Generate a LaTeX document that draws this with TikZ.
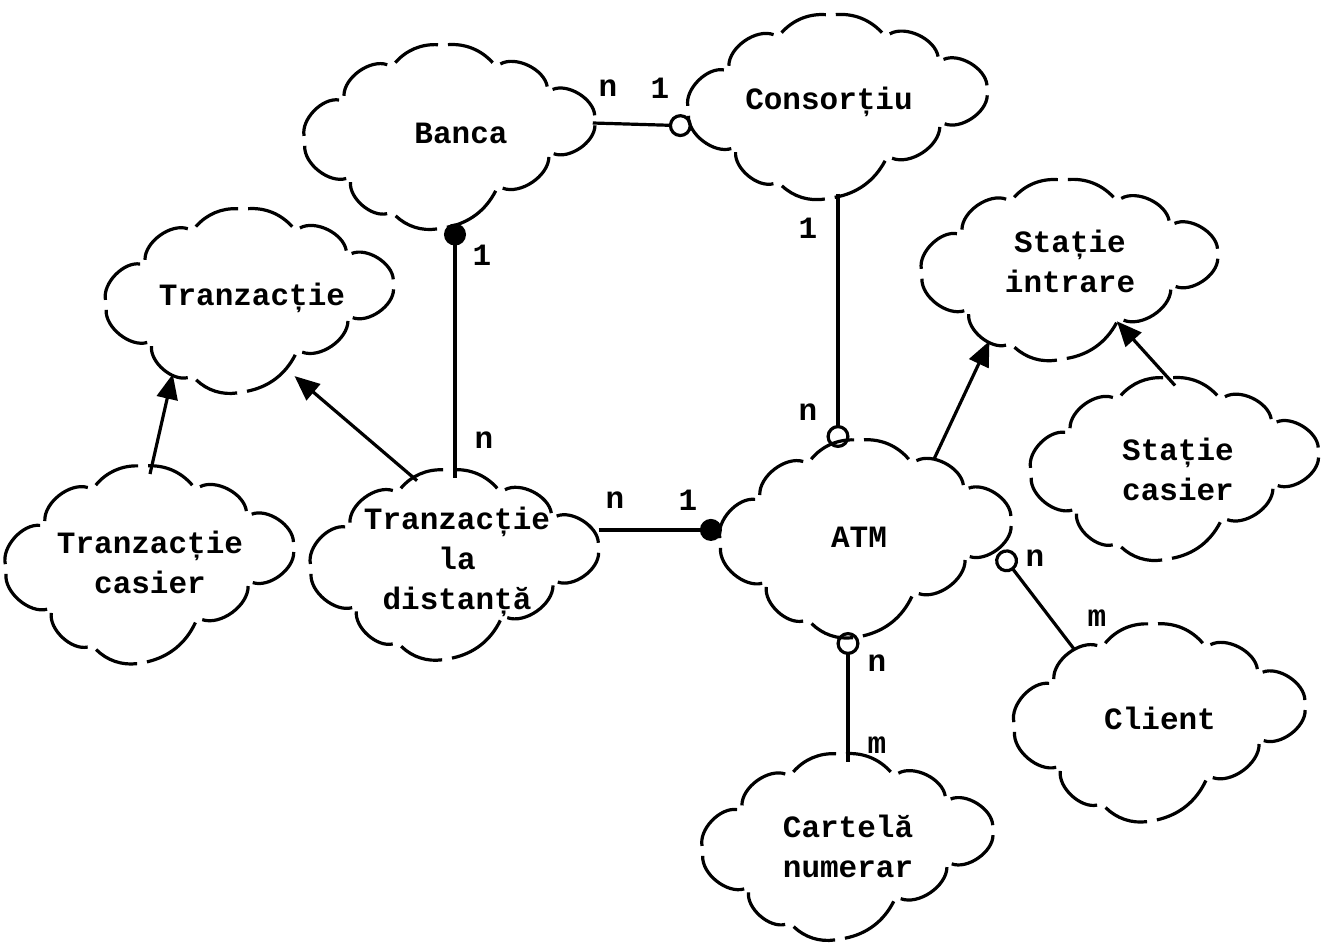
\documentclass[tikz,border=0pt]{standalone}
\usepackage{fontspec}
\setmonofont{Liberation Mono}
\usetikzlibrary{arrows.meta,shapes.geometric,calc}

% Booch class cloud: broken puffs drawn around a named ellipse node
% #1 node name, #2 horizontal scale, #3 vertical scale
\newcommand\classcloud[3]{%
  \foreach \cx/\cy/\cb [remember=\cx as \px (initially 145), remember=\cy as \py (initially -19)] in
    {98/-50/55, 46/-77/55, -7/-100/26, -58/-77/26, -106/-40/55, -145/3/55,
     -99/42/55, -58/80/55, -8/97/26, 48/52/26, 99/15/55, 145/-19/55}
    {\draw[puff] ($(#1)+({#2*\px},{#3*\py})$) to[bend right=\cb] ($(#1)+({#2*\cx},{#3*\cy})$);}%
}

\begin{document}
\begin{tikzpicture}[x=1pt,y=-1pt,
  cls/.style={ellipse, draw=none, inner sep=0pt, outer sep=0pt},
  lbl/.style={font=\ttfamily\bfseries\fontsize{31}{40}\selectfont, align=center, inner sep=0pt},
  mult/.style={font=\ttfamily\bfseries\fontsize{31}{40}\selectfont, inner sep=0pt},
  puff/.style={line width=3.2pt, shorten <=5pt, shorten >=5pt},
  assoc/.style={line width=3.2pt},
  inherit/.style={line width=3.2pt, -{Triangle[length=25pt,width=21pt]}},
  hasopen/.style={-{Circle[open,length=23pt]}},
  hasfull/.style={-{Circle[length=22pt]}}]

\fill[white] (0,0) rectangle (1329,945);
\useasboundingbox (0,0) rectangle (1329,945);

% class nodes
\node[cls, minimum width=290pt, minimum height=171pt] (banca)   at (450,138) {};
\node[cls, minimum width=299pt, minimum height=171pt] (cons)    at (838,108) {};
\node[cls, minimum width=287pt, minimum height=171pt] (tranz)   at (250,302) {};
\node[cls, minimum width=296pt, minimum height=167pt] (statin)  at (1070,271) {};
\node[cls, minimum width=287pt, minimum height=184pt] (tcasier) at (150,566) {};
\node[cls, minimum width=287pt, minimum height=177pt] (tdist)   at (455,566) {};
\node[cls, minimum width=290pt, minimum height=184pt] (atm)     at (866,540) {};
\node[cls, minimum width=287pt, minimum height=169pt] (statcas) at (1175,470) {};
\node[cls, minimum width=290pt, minimum height=184pt] (client)  at (1160,724) {};
\node[cls, minimum width=290pt, minimum height=173pt] (cartela) at (848,848) {};

% cloud outlines
\classcloud{banca}{1}{0.93}
\classcloud{cons}{1.03}{0.93}
\classcloud{tranz}{0.99}{0.93}
\classcloud{statin}{1.02}{0.91}
\classcloud{tcasier}{0.99}{1}
\classcloud{tdist}{0.99}{0.96}
\classcloud{atm}{1}{1}
\classcloud{statcas}{0.99}{0.92}
\classcloud{client}{1}{1}
\classcloud{cartela}{1}{0.94}

% class names
\node[lbl] (banca-t)   at (461,133)  {Banca};
\node[lbl] (cons-t)    at (829,102)  {Consorțiu};
\node[lbl] (tranz-t)   at (252,298)  {Tranzacție};
\node[lbl] (statin-t)  at (1070,261) {Stație\\intrare};
\node[lbl] (tcasier-t) at (150,562)  {Tranzacție\\casier};
\node[lbl] (tdist-t)   at (457,562)  {Tranzacție\\la\\distanță};
\node[lbl] (atm-t)     at (859,537)  {ATM};
\node[lbl] (statcas-t) at (1178,469) {Stație\\casier};
\node[lbl] (client-t)  at (1160,718) {Client};
\node[lbl] (cartela-t) at (848,846)  {Cartelă\\numerar};

% associations
\draw[assoc, hasopen] (banca.6) -- (cons.187);
\draw[assoc, hasopen] (cons.south) -- (cons.south |- atm.north);
\draw[assoc, hasfull] (tdist.north) -- (tdist.north |- banca.south);
\draw[assoc, hasfull] (atm.176 -| tdist.east) -- (atm.176);
\draw[assoc, hasopen] (client.139) -- ($(atm)!0.93!(atm.355)$);
\draw[assoc, hasopen] (cartela.north) -- (cartela.north |- atm.south);

% inheritance
\draw[inherit] (tcasier.north) -- (tranz.223);
\draw[inherit] (tdist.114) -- ($(tranz)!0.92!(tranz.301)$);
\draw[inherit] (atm.50) -- (statin.221);
\draw[inherit] (statcas.north) -- ($(statin)!0.68!(statin.313)$);

% multiplicities
\node[mult] (m1) at (608,88)  {n};
\node[mult] (m2) at (660,88)  {1};
\node[mult] (m3) at (808,228) {1};
\node[mult] (m4) at (808,412) {n};
\node[mult] (m5) at (482,255) {1};
\node[mult] (m6) at (484,440) {n};
\node[mult] (m7) at (615,500) {n};
\node[mult] (m8) at (688,500) {1};
\node[mult] (m9) at (1035,558) {n};
\node[mult] (m10) at (1097,618) {m};
\node[mult] (m11) at (877,663) {n};
\node[mult] (m12) at (877,745) {m};
\end{tikzpicture}
\end{document}
